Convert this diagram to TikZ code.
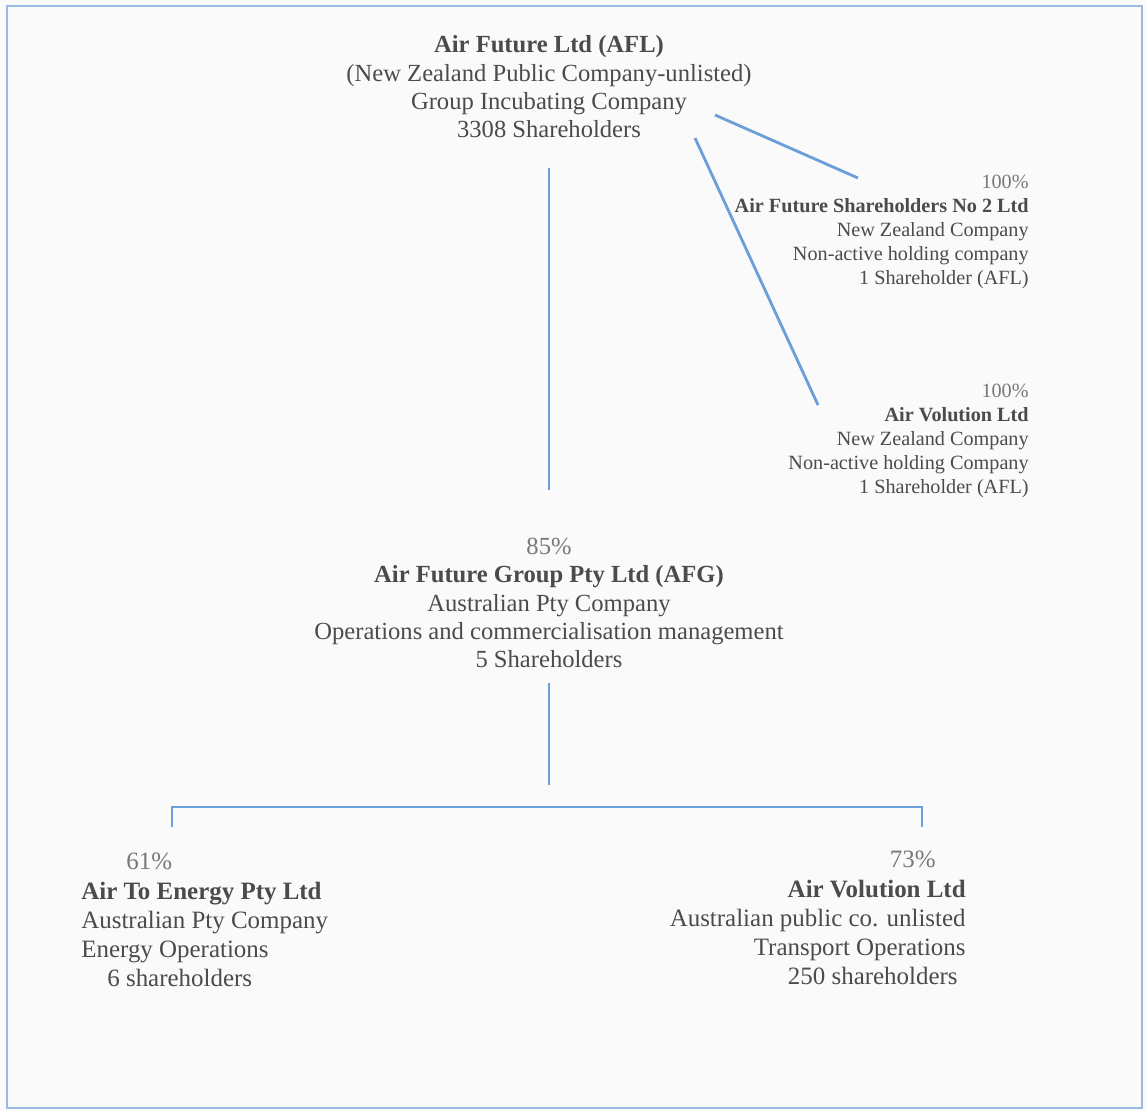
\documentclass[tikz,border=0pt]{standalone}
\usepackage{fontspec}
\setmainfont{Liberation Serif}
\usetikzlibrary{calc,positioning}
\definecolor{linkblue}{RGB}{108,158,218}
\definecolor{txtgrey}{RGB}{75,75,75}
\definecolor{pctgrey}{RGB}{120,120,120}
\definecolor{paper}{RGB}{250,250,250}

\begin{document}
\begin{tikzpicture}[x=0.02cm,y=-0.02cm,
	link/.style={draw=linkblue,line width=1.6pt},
	co/.style={text=txtgrey,inner sep=0pt,font=\fontsize{14}{16.1}\selectfont},
	sub/.style={co,font=\fontsize{11.5}{13.6}\selectfont},
	low/.style={co,font=\fontsize{14.2}{16.6}\selectfont}]
	\useasboundingbox (0,0) rectangle (1146,1111);
	\fill[paper] (0,0) rectangle (1146,1111);
	\draw[linkblue!70,line width=1.6pt] (7,6) rectangle (1142,1108);

	\node[co,align=center] (afl) at (549,87)
		{\textbf{Air Future Ltd (AFL)}\\(New Zealand Public Company-unlisted)\\Group Incubating Company\\3308 Shareholders};
	\node[sub,align=right,anchor=east] (nz2) at (1029,232)
		{\textcolor{pctgrey}{100\%}\\\textbf{Air Future Shareholders No 2 Ltd}\\New Zealand Company\\Non-active holding company\\1 Shareholder (AFL)};
	\node[sub,align=right,anchor=east] (avnz) at (1029,441)
		{\textcolor{pctgrey}{100\%}\\\textbf{Air Volution Ltd}\\New Zealand Company\\Non-active holding Company\\1 Shareholder (AFL)};
	\node[co,align=center] (afg) at (549,603)
		{\textcolor{pctgrey}{85\%}\\\textbf{Air Future Group Pty Ltd (AFG)}\\Australian Pty Company\\Operations and commercialisation management\\5 Shareholders};
	\node[low,align=left,anchor=west] (ate) at (81,920)
		{\hspace*{0.9cm}\textcolor{pctgrey}{61\%}\\\textbf{Air To Energy Pty Ltd}\\Australian Pty Company\\Energy Operations\\\hspace*{0.52cm}6 shareholders};
	\node[low,align=right,anchor=east] (avau) at (966,918)
		{\textcolor{pctgrey}{73\%}\hspace*{0.6cm}\\\textbf{Air Volution Ltd}\\Australian public co. unlisted\\Transport Operations\\250 shareholders\hspace*{0.16cm}};

	\coordinate (hub) at ($(afg)+(0,182)$);

	% ownership links
	\draw[link] ($(afl)+(0,81)$) -- ($(afg)+(0,-113)$);
	\draw[link] ($(afl)+(166,28)$) -- ($(nz2.east)+(-171,-54)$);
	\draw[link] ($(afl)+(146,51)$) -- ($(avnz.east)+(-211,-36)$);
	\draw[link] ($(afg)+(0,80)$) -- (hub);
	\draw[link] ($(ate.west)+(91,-93)$) -- ++(0,-20) -| ($(avau.east)+(-44,-91)$);
\end{tikzpicture}
\end{document}
